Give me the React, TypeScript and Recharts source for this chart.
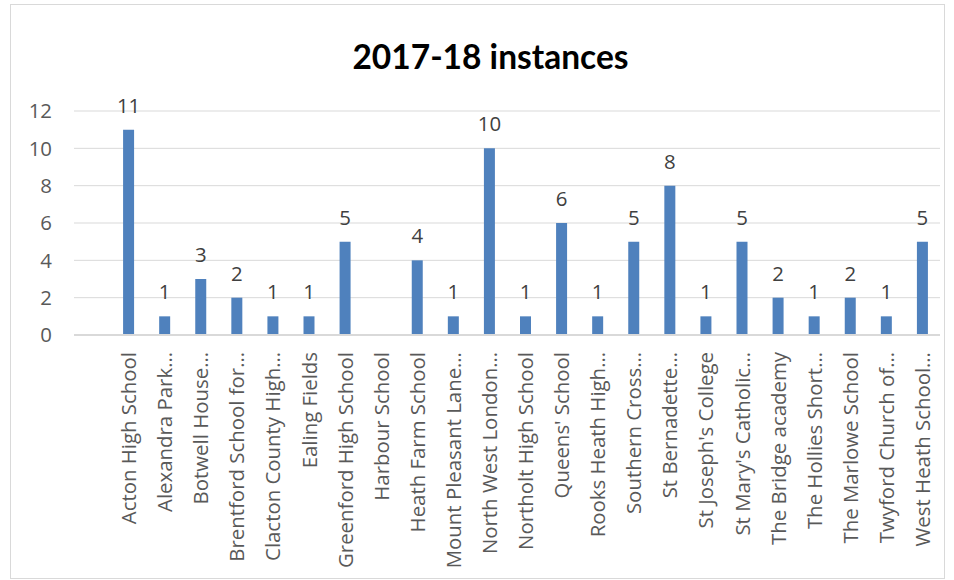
import React from 'react';
import { Bar, BarChart, CartesianGrid, LabelList, XAxis, YAxis } from 'recharts';

const schools = [
  '',
  'Acton High School',
  'Alexandra Park…',
  'Botwell House…',
  'Brentford School for…',
  'Clacton County High…',
  'Ealing Fields',
  'Greenford High School',
  'Harbour School',
  'Heath Farm School',
  'Mount Pleasant Lane…',
  'North West London…',
  'Northolt High School',
  "Queens' School",
  'Rooks Heath High…',
  'Southern Cross…',
  'St Bernadette…',
  "St Joseph's College",
  "St Mary's Catholic…",
  'The Bridge academy',
  'The Hollies Short…',
  'The Marlowe School',
  'Twyford Church of…',
  'West Heath School…',
];

const instances: (number | null)[] = [
  null, 11, 1, 3, 2, 1, 1, 5, null, 4, 1, 10, 1, 6, 1, 5, 8, 1, 5, 2, 1, 2, 1, 5,
];

const yTicks = [0, 2, 4, 6, 8, 10, 12];

const data = schools.map((name, i) => ({ name, value: instances[i] }));

const FONT = '"Open Sans", sans-serif';
const TITLE_FONT = 'Lato, "Open Sans", sans-serif';

const SchoolTick = (props: any) => {
  const { x, y, payload } = props;
  return (
    <text
      transform={`translate(${x},${y + 9}) rotate(-90)`}
      textAnchor="end"
      dominantBaseline="central"
      fill="#595959"
      fontSize={20.4}
      fontFamily={FONT}
    >
      {payload.value}
    </text>
  );
};

const App = () => {
  return (
    <div style={{ position: 'absolute', left: 0, top: 0, width: 954, height: 580, background: '#fff' }}>
      <div
        style={{
          position: 'absolute',
          left: 10,
          top: 4,
          width: 933,
          height: 573,
          border: '1px solid #d9d9d9',
        }}
      />
      <div
        style={{
          position: 'absolute',
          left: 0,
          width: 954,
          top: 34,
          textAlign: 'center',
          fontFamily: TITLE_FONT,
          fontWeight: 700,
          fontSize: 33.5,
          color: '#000',
          lineHeight: '44px',
          paddingLeft: 27,
          boxSizing: 'border-box',
        }}
      >
        2017-18 instances
      </div>
      <BarChart
        width={954}
        height={580}
        data={data}
        margin={{ top: 111, right: 14, left: 0, bottom: 0 }}
        style={{ position: 'absolute', left: 0, top: 0 }}
      >
        <CartesianGrid vertical={false} stroke="#d9d9d9" strokeWidth={1} />
        <XAxis
          dataKey="name"
          interval={0}
          height={245}
          tickLine={false}
          axisLine={{ stroke: '#d9d9d9', strokeWidth: 2 }}
          tick={<SchoolTick />}
        />
        <YAxis
          width={74}
          domain={[0, 12]}
          ticks={yTicks}
          axisLine={false}
          tickLine={false}
          tickSize={0}
          tickMargin={22}
          tick={{ fill: '#595959', fontSize: 20.4, fontFamily: FONT }}
        />
        <Bar dataKey="value" fill="#4F81BD" barSize={11} isAnimationActive={false}>
          <LabelList
            dataKey="value"
            position="top"
            offset={17}
            fill="#404040"
            fontSize={20.4}
            fontFamily={FONT}
          />
        </Bar>
      </BarChart>
    </div>
  );
};

export default App;
